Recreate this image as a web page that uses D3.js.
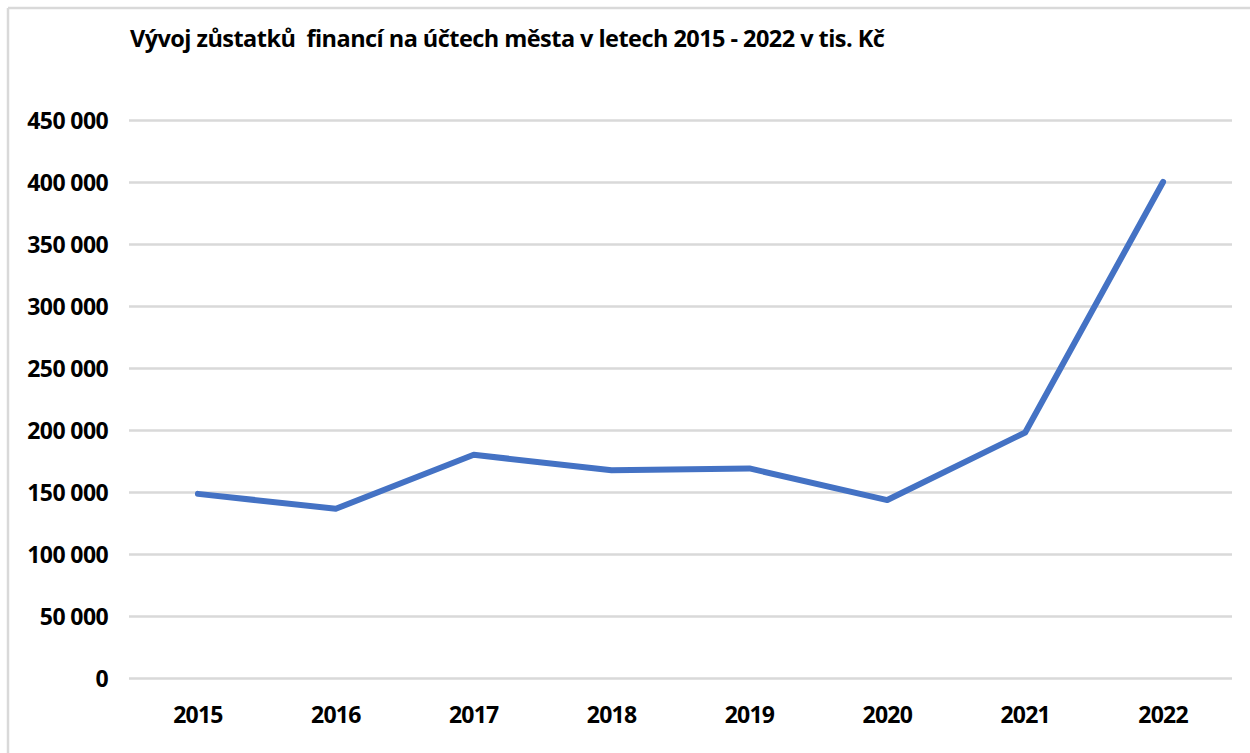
<!DOCTYPE html>
<html><head><meta charset="utf-8">
<script src="https://cdn.jsdelivr.net/npm/d3@7"></script>
<style>
html,body{margin:0;padding:0;background:#fff;}
svg text{font-family:"Open Sans",Arial,sans-serif;font-weight:bold;fill:#000;}
</style></head>
<body>
<svg id="chart" width="1250" height="753"></svg>
<script>
const title = "Vývoj zůstatků  financí na účtech města v letech 2015 - 2022 v tis. Kč";
const years = ["2015","2016","2017","2018","2019","2020","2021","2022"];
const balances = [148500, 136500, 180000, 167500, 169000, 143500, 198000, 400000];
const yTicks = [0,50000,100000,150000,200000,250000,300000,350000,400000,450000];

const svg = d3.select("#chart");
const W = 1250, H = 753;
const m = {left:129, right:18, top:120, bottom:75};

// outer frame (top and left edges visible)
svg.append("line").attr("x1",8).attr("x2",W).attr("y1",8).attr("y2",8)
  .attr("stroke","#d9d9d9").attr("stroke-width",2.5);
svg.append("line").attr("x1",8).attr("x2",8).attr("y1",8).attr("y2",H)
  .attr("stroke","#d9d9d9").attr("stroke-width",2.5);

const x = d3.scaleBand().domain(years).range([m.left, W - m.right]);
const y = d3.scaleLinear().domain([0,450000]).range([H - m.bottom, m.top]);

const fmt = v => d3.format(",")(v).replace(/,/g," ");

// gridlines
const yAxis = d3.axisLeft(y).tickValues(yTicks).tickSize(-(W - m.right - m.left)).tickFormat(fmt).tickPadding(21);
const gy = svg.append("g").attr("transform",`translate(${m.left},0)`).call(yAxis);
gy.select(".domain").remove();
gy.selectAll(".tick line").attr("stroke","#d9d9d9").attr("stroke-width",2.5);
gy.selectAll(".tick text").attr("font-size",23).attr("dy","0.36em").style("letter-spacing","-0.6px");

const xAxis = d3.axisBottom(x).tickSize(0).tickPadding(29);
const gx = svg.append("g").attr("transform",`translate(0,${H - m.bottom})`).call(xAxis);
gx.select(".domain").remove();
gx.selectAll(".tick text").attr("font-size",23).style("letter-spacing","-0.8px");

const line = d3.line().x((d,i)=>x(years[i]) + x.bandwidth()/2).y(d=>y(d));
svg.append("path").datum(balances).attr("d",line)
  .attr("fill","none").attr("stroke","#4472C4").attr("stroke-width",6)
  .attr("stroke-linejoin","round").attr("stroke-linecap","round");

svg.append("text").attr("x",130).attr("y",47).attr("font-size",23.5)
  .style("letter-spacing","-0.55px")
  .attr("xml:space","preserve").style("white-space","pre").text(title);
</script>
</body></html>
